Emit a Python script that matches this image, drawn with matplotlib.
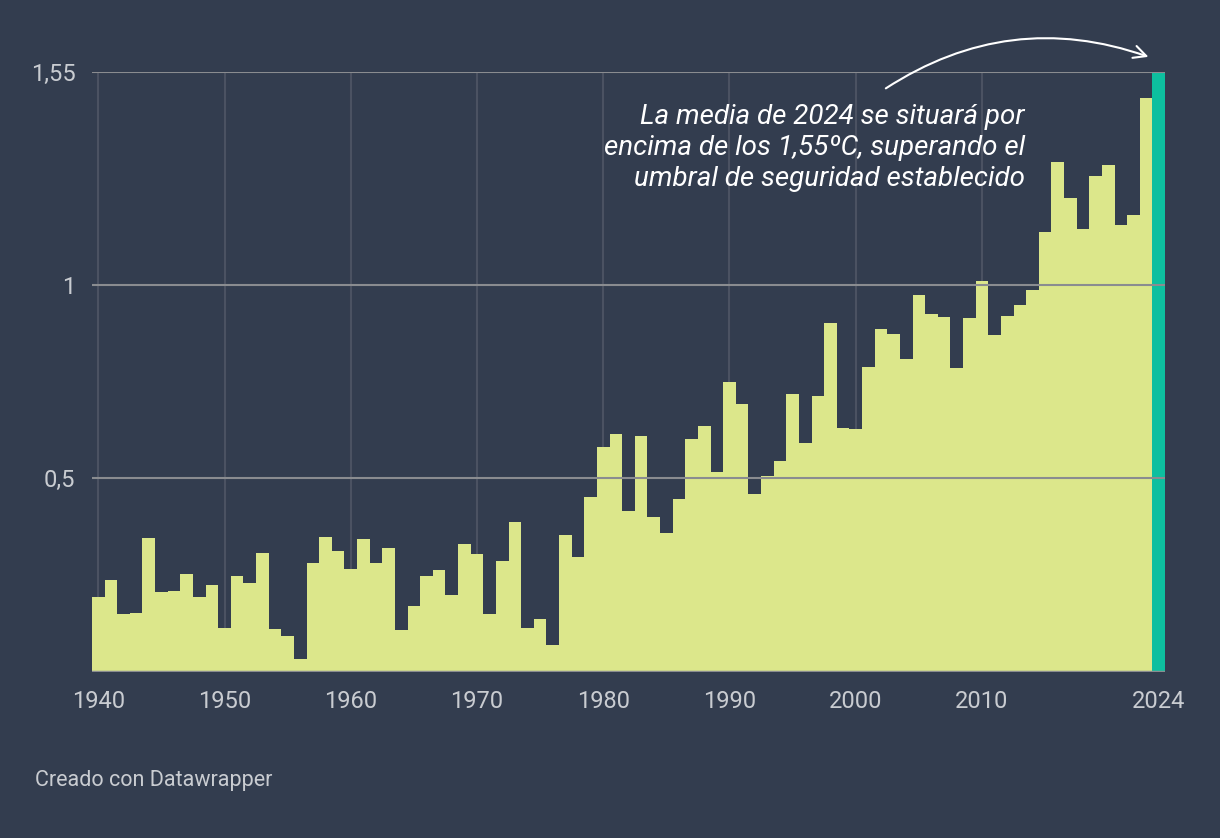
import matplotlib.pyplot as plt
from matplotlib.patches import FancyArrowPatch

plt.rcParams['font.family'] = ['Roboto', 'DejaVu Sans']

years = list(range(1940, 2025))
anomaly = [
    0.193, 0.237, 0.149, 0.152, 0.345, 0.206, 0.209, 0.252, 0.193, 0.224,
    0.113, 0.247, 0.229, 0.307, 0.111, 0.092, 0.033, 0.281, 0.348, 0.312,
    0.265, 0.343, 0.281, 0.320, 0.108, 0.170, 0.247, 0.263, 0.198, 0.330,
    0.304, 0.149, 0.286, 0.387, 0.113, 0.136, 0.069, 0.353, 0.296, 0.451,
    0.581, 0.614, 0.415, 0.609, 0.400, 0.358, 0.446, 0.601, 0.635, 0.516,
    0.749, 0.692, 0.459, 0.506, 0.544, 0.718, 0.591, 0.712, 0.901, 0.630,
    0.627, 0.787, 0.886, 0.873, 0.808, 0.973, 0.924, 0.916, 0.785, 0.914,
    1.010, 0.870, 0.919, 0.948, 0.986, 1.136, 1.317, 1.224, 1.144, 1.281,
    1.309, 1.154, 1.180, 1.482, 1.550,
]
highlight_year = 2024
x_ticks = [1940, 1950, 1960, 1970, 1980, 1990, 2000, 2010, 2024]
y_ticks = [0.5, 1.0, 1.55]
y_tick_labels = ["0,5", "1", "1,55"]
note = ("La media de 2024 se situará por\n"
        "encima de los 1,55ºC, superando el\n"
        "umbral de seguridad establecido")

BG = "#333d4f"
BAR = "#dce78b"
HIGHLIGHT = "#0dbf9f"
TEXT = "#c9ccd1"

fig = plt.figure(figsize=(12.2, 8.38), dpi=100, facecolor=BG)
ax = fig.add_axes([92 / 1220, 1 - 671.7 / 838, (1165 - 92) / 1220, 600 / 838])
ax.set_facecolor(BG)

colors = [HIGHLIGHT if y == highlight_year else BAR for y in years]
ax.bar(years, anomaly, width=1.0, color=colors, linewidth=0, zorder=2)

ax.set_xlim(1939.5, 2024.5)
ax.set_ylim(0, 1.55)

# vertical gridlines behind bars (no line for 2020)
for xt in x_ticks:
    ax.axvline(xt, color="#4b5262", lw=1.5, zorder=1)
# horizontal gridlines over bars
for yt in y_ticks:
    ax.axhline(yt, color="#8a8c90", lw=1.5, zorder=3)
ax.axhline(0, color="#8a8c90", lw=2.5, zorder=3)

for s in ax.spines.values():
    s.set_visible(False)
ax.set_xticks(x_ticks)
ax.set_xticklabels([str(t) for t in x_ticks])
ax.set_yticks(y_ticks)
ax.set_yticklabels(y_tick_labels)
ax.tick_params(axis="both", length=0, colors=TEXT, labelsize=17)
ax.tick_params(axis="x", pad=13)
ax.tick_params(axis="y", pad=12)

ax.text(2013.4, 1.353, note, ha="right", va="center", color="white",
        fontsize=20, style="italic", linespacing=1.27, zorder=4)

arrow = FancyArrowPatch((2002.2, 1.503), (2023.4, 1.586),
                        connectionstyle="arc3,rad=-0.25", arrowstyle="->,head_length=9,head_width=4.5",
                        color="white", lw=1.5, clip_on=False, zorder=5)
ax.add_patch(arrow)

fig.text(35 / 1220, 1 - 780 / 838, "Creado con Datawrapper", color=TEXT,
         fontsize=15.5, ha="left", va="center")

fig.savefig("out.png", dpi=100, facecolor=BG)
